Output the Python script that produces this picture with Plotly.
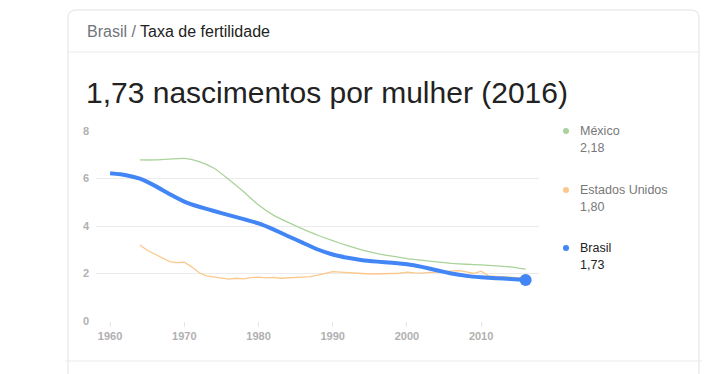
import plotly.graph_objects as go

# ---------------- data ----------------
years_br = list(range(1960, 2017, 2))
brasil = [6.22, 6.15, 5.99, 5.70, 5.35, 5.03, 4.81, 4.63, 4.46, 4.29, 4.11, 3.86, 3.57, 3.29,
          3.01, 2.80, 2.66, 2.56, 2.50, 2.45, 2.39, 2.28, 2.14, 2.00, 1.90, 1.84, 1.80, 1.77, 1.73]

years_mx = list(range(1964, 2017, 2))
mexico = [6.78, 6.78, 6.82, 6.85, 6.71, 6.43, 5.96, 5.44, 4.88, 4.46, 4.15, 3.87, 3.61, 3.38,
          3.17, 2.98, 2.84, 2.73, 2.63, 2.56, 2.49, 2.43, 2.39, 2.36, 2.32, 2.28, 2.18]

years_us = list(range(1964, 2017))
eua = [3.20, 2.98, 2.82, 2.66, 2.50, 2.46, 2.48, 2.28, 2.03, 1.90, 1.86, 1.80, 1.76, 1.80,
       1.77, 1.83, 1.85, 1.82, 1.84, 1.80, 1.81, 1.84, 1.84, 1.87, 1.93, 2.01, 2.08, 2.06,
       2.05, 2.02, 2.00, 1.98, 1.98, 1.97, 2.00, 2.01, 2.06, 2.03, 2.02, 2.05, 2.05, 2.06,
       2.11, 2.12, 2.07, 2.00, 2.10, 1.90, 1.88, 1.86, 1.86, 1.84, 1.80]

legend_names = ["México", "Estados Unidos", "Brasil"]
legend_values = ["2,18", "1,80", "1,73"]
colors = ["#a9d39a", "#fbc88c", "#4285f4"]

header_left = "Brasil"
header_right = "Taxa de fertilidade"
title_text = "1,73 nascimentos por mulher (2016)"
x_ticks = [1960, 1970, 1980, 1990, 2000, 2010]
y_ticks = [0, 2, 4, 6, 8]

# ---------------- layout helpers ----------------
W, H = 722, 374
PL, PR, PT, PB = 96, 539, 131, 321  # plot area in pixels


def px(x):
    return (x - PL) / (PR - PL)


def py(y):
    return (PB - y) / (PB - PT)


FONT = "Arial, Liberation Sans, sans-serif"

fig = go.Figure()

fig.add_trace(go.Scatter(x=years_mx, y=mexico, mode="lines",
                         line=dict(color=colors[0], width=1.3, shape="spline", smoothing=0.5),
                         hoverinfo="skip"))
fig.add_trace(go.Scatter(x=years_us, y=eua, mode="lines", line=dict(color=colors[1], width=1.3),
                         hoverinfo="skip"))
fig.add_trace(go.Scatter(x=years_br, y=brasil, mode="lines",
                         line=dict(color=colors[2], width=4, shape="spline", smoothing=0.3),
                         hoverinfo="skip"))
fig.add_trace(go.Scatter(x=[years_br[-1]], y=[brasil[-1]], mode="markers",
                         marker=dict(color=colors[2], size=12), cliponaxis=False, hoverinfo="skip"))

shapes = []
# card outline with rounded top corners
L, R, T, B, rad = 68, 699, 10, 390, 8
path = (f"M {px(L)},{py(B)} L {px(L)},{py(T+rad)} Q {px(L)},{py(T)} {px(L+rad)},{py(T)} "
        f"L {px(R-rad)},{py(T)} Q {px(R)},{py(T)} {px(R)},{py(T+rad)} L {px(R)},{py(B)}")
shapes.append(dict(type="path", xref="paper", yref="paper", path=path,
                   line=dict(color="#dfe1e5", width=1), layer="below"))
# header divider
shapes.append(dict(type="line", xref="paper", yref="paper", x0=px(L), x1=px(R), y0=py(52), y1=py(52),
                   line=dict(color="#ebebeb", width=1)))
# bottom divider
shapes.append(dict(type="line", xref="paper", yref="paper", x0=px(65), x1=px(702), y0=py(361), y1=py(361),
                   line=dict(color="#ebebeb", width=1)))

annotations = []
annotations.append(dict(xref="paper", yref="paper", x=px(85), y=py(32), xanchor="left", yanchor="middle",
                        showarrow=False,
                        text=f"<span style='color:#70757a'>{header_left}</span>"
                             f"<span style='color:#70757a'> / </span>{header_right}",
                        font=dict(family=FONT, size=16, color="#222222")))
annotations.append(dict(xref="paper", yref="paper", x=px(84), y=py(92), xanchor="left", yanchor="middle",
                        showarrow=False, text=title_text,
                        font=dict(family=FONT, size=30, color="#222222")))

leg_y = [131, 190, 248]
name_colors = ["#777777", "#777777", "#222222"]
for i in range(3):
    annotations.append(dict(xref="paper", yref="paper", x=px(578), y=py(leg_y[i]), xanchor="left",
                            yanchor="middle", showarrow=False, text=legend_names[i],
                            font=dict(family=FONT, size=12.5, color=name_colors[i])))
    annotations.append(dict(xref="paper", yref="paper", x=px(578), y=py(leg_y[i] + 17), xanchor="left",
                            yanchor="middle", showarrow=False, text=legend_values[i],
                            font=dict(family=FONT, size=12.5, color=name_colors[i])))
    shapes.append(dict(type="circle", xref="paper", yref="paper",
                       x0=px(563), x1=px(569), y0=py(leg_y[i] - 3), y1=py(leg_y[i] + 3),
                       fillcolor=colors[i], line=dict(width=0)))

fig.update_layout(
    width=W, height=H,
    margin=dict(l=PL, r=W - PR, t=PT, b=H - PB, pad=0),
    paper_bgcolor="white", plot_bgcolor="white",
    showlegend=False,
    shapes=shapes, annotations=annotations,
    xaxis=dict(range=[1958.1, 2017.8], tickvals=x_ticks, ticks="outside", ticklen=5,
               tickcolor="#e6e6e6", showgrid=False, zeroline=False, showline=False,
               tickfont=dict(family=FONT, size=11, color="#b0b0b0", weight="bold"), fixedrange=True),
    yaxis=dict(range=[0, 8], tickvals=y_ticks, showgrid=True, gridcolor="#ebebeb", gridwidth=1,
               zeroline=False, showline=False, ticks="", ticklabelstandoff=6,
               tickfont=dict(family=FONT, size=11, color="#b0b0b0", weight="bold"), fixedrange=True),
)

fig.write_html("out.html", config={"displayModeBar": False})
